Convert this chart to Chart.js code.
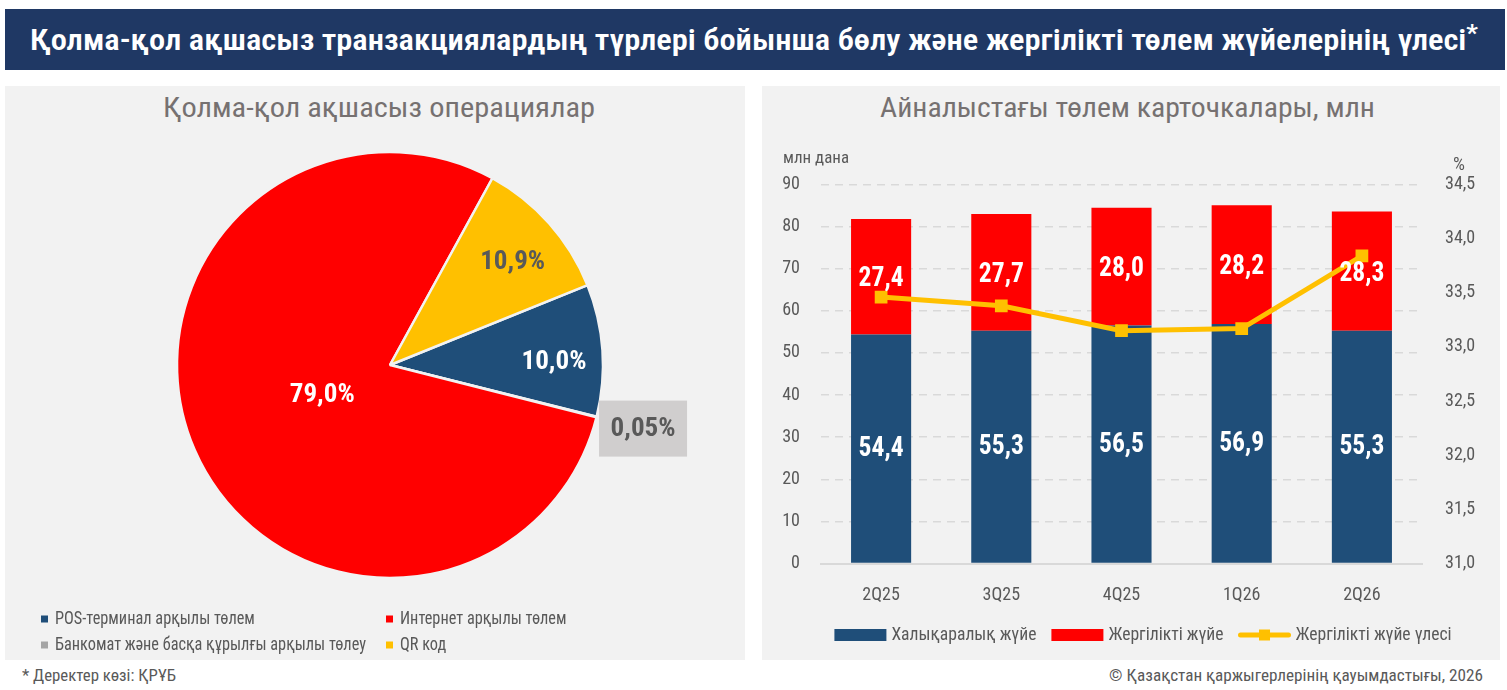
<!DOCTYPE html>
<html><head><meta charset="utf-8">
<script src="https://cdn.jsdelivr.net/npm/chart.js@4.4.1/dist/chart.umd.min.js"></script>
<style>
html,body{margin:0;padding:0;background:#fff;width:1507px;height:690px;overflow:hidden;position:relative;}
.abs{position:absolute;}
.txt{position:absolute;white-space:nowrap;line-height:1;transform-origin:0 50%;}
#hdr{left:5px;top:9px;width:1500px;height:61px;background:#1f3864;}
#lp{left:5px;top:86px;width:740px;height:574px;background:#f2f2f2;}
#rp{left:762px;top:86px;width:738px;height:574px;background:#f2f2f2;}
#pieCanvasWrap{left:5px;top:86px;width:740px;height:574px;}
#barCanvasWrap{left:762px;top:86px;width:738px;height:574px;}
</style>
</head><body>
<div id="hdr" class="abs"></div>
<div id="lp" class="abs"></div>
<div id="rp" class="abs"></div>
<div id="title" class="txt" data-x1="30" data-x2="1478" data-cy="40" style="font-size:30px;font-weight:600;color:#fff;">Қолма-қол ақшасыз транзакциялардың түрлері бойынша бөлу және жергілікті төлем жүйелерінің үлесі<span style="position:relative;top:-9px;font-size:24px;">*</span></div>
<div id="sub1" class="txt" data-x1="163" data-x2="595" data-cy="108" style="font-size:28px;color:#767171;">Қолма-қол ақшасыз операциялар</div>
<div id="sub2" class="txt" data-x1="880" data-x2="1375" data-cy="108" style="font-size:28px;color:#767171;">Айналыстағы төлем карточкалары, млн</div>
<div id="foot1" class="txt" data-x1="22" data-x2="176" data-cy="675" style="font-size:17px;color:#595959;">* Деректер көзі: ҚРҰБ</div>
<div id="foot2" class="txt" data-x1="1109" data-x2="1483" data-cy="675" style="font-size:17px;color:#595959;">© Қазақстан қаржыгерлерінің қауымдастығы, 2026</div>
<div id="pieCanvasWrap" class="abs"><canvas id="pie" width="740" height="574"></canvas></div>
<div id="barCanvasWrap" class="abs"><canvas id="bar" width="738" height="574"></canvas></div>
<script>
// ---------- DATA ----------
const pieLabels = ['POS-терминал арқылы төлем', 'Банкомат және басқа құрылғы арқылы төлеу', 'Интернет арқылы төлем', 'QR код'];
const pieValues = [10.0, 0.05, 79.0, 10.9];

const quarters = ['2Q25', '3Q25', '4Q25', '1Q26', '2Q26'];
const intlValues = [54.4, 55.3, 56.5, 56.9, 55.3];
const localValues = [27.4, 27.7, 28.0, 28.2, 28.3];
const localShare = [33.46, 33.38, 33.15, 33.17, 33.84];
const seriesNames = ['Халықаралық жүйе', 'Жергілікті жүйе', 'Жергілікті жүйе үлесі'];
const leftTicks = [0, 10, 20, 30, 40, 50, 60, 70, 80, 90];
const rightTicks = [31.0, 31.5, 32.0, 32.5, 33.0, 33.5, 34.0, 34.5];
const leftAxisTitle = 'млн дана';
const rightAxisTitle = '%';

// ---------- FONT PICK ----------
const probe = document.createElement('canvas').getContext('2d');
const PS = 'Қолма-қол ақшасыз abcdefghijk 0123456789';
function widthOf(f) { probe.font = f; return probe.measureText(PS).width; }
function hasFont(name) {
  const w0 = widthOf('40px monospace');
  const w1 = widthOf("40px '" + name + "', monospace");
  return Math.abs(w1 - w0) > 0.5;
}
let FAM = null, STRETCH = '';
const condensedNames = ['Liberation Sans Narrow', 'Roboto Condensed', 'Noto Sans Condensed', 'DejaVu Sans Condensed', 'Open Sans Condensed', 'Noto Sans SemiCondensed'];
for (const n of condensedNames) { if (hasFont(n)) { FAM = "'" + n + "'"; break; } }
if (!FAM) {
  const wn = widthOf("40px 'Noto Sans'");
  const wc = widthOf("condensed 40px 'Noto Sans'");
  if (hasFont('Noto Sans') && wc < wn * 0.93) { FAM = "'Noto Sans'"; STRETCH = 'condensed '; }
}
if (!FAM) FAM = hasFont('Roboto') ? 'Roboto' : "'Liberation Sans'";
const FONT = FAM + ', sans-serif';
function fontStr(size, bold) { return STRETCH + (bold ? 'bold ' : '') + size + 'px ' + FONT; }

// ---------- STYLE ----------
const pieColors = ['#1f4e79', '#a5a5a5', '#ff0000', '#ffc000'];
const pieLabelColors = ['#ffffff', '#595959', '#ffffff', '#595959'];
const pieLabelDist = [0.77, 1.225, 0.347, 0.752];
const pieLabelAngleShift = [2.9, 0, 0, 1.6];   // degrees, clockwise
const pieLabelBox = [false, true, false, false];
const barLabelDy = [1, 3];
const BLUE = '#1f4e79', RED = '#ff0000', YEL = '#ffc000', GREY_TXT = '#595959';

Chart.defaults.font.family = FONT;
if (STRETCH) Chart.defaults.font.weight = 'condensed normal';
Chart.defaults.color = GREY_TXT;

function fmt(v, d) { return v.toFixed(d).replace('.', ','); }
function fitFactor(ctx, sample, target) { return Math.min(1.15, target / ctx.measureText(sample).width); }
function drawFit(ctx, txt, x, y, sx) {
  ctx.save(); ctx.translate(x, y); ctx.scale(sx, 1); ctx.fillText(txt, 0, 0); ctx.restore();
}

// ---------- HTML text fitting ----------
document.querySelectorAll('.txt').forEach(el => {
  el.style.fontFamily = FONT;
  if (STRETCH) el.style.fontStretch = 'condensed';
  const x1 = +el.dataset.x1, x2 = +el.dataset.x2, cy = +el.dataset.cy;
  const fs = parseFloat(el.style.fontSize);
  el.style.left = x1 + 'px';
  el.style.top = (cy - 0.49 * fs) + 'px';
  const w = el.getBoundingClientRect().width;
  el.style.transform = 'scaleX(' + ((x2 - x1) / w) + ')';
});

// ---------- PIE ----------
const pieLabelPlugin = {
  id: 'pieLabels',
  afterDatasetsDraw(chart) {
    const ctx = chart.ctx;
    const meta = chart.getDatasetMeta(0);
    ctx.save();
    ctx.font = fontStr(25, true);
    ctx.textAlign = 'center'; ctx.textBaseline = 'middle';
    const sx = fitFactor(ctx, '79,0%', 65);
    meta.data.forEach((arc, i) => {
      const p = arc.getProps(['x', 'y', 'startAngle', 'endAngle', 'outerRadius'], true);
      const mid = (p.startAngle + p.endAngle) / 2 + pieLabelAngleShift[i] * Math.PI / 180;
      const d = p.outerRadius * pieLabelDist[i];
      const px = p.x + Math.cos(mid) * d, py = p.y + Math.sin(mid) * d;
      const v = pieValues[i];
      const txt = fmt(v, v < 1 ? 2 : 1) + '%';
      if (pieLabelBox[i]) { ctx.fillStyle = '#d0cece'; ctx.fillRect(px - 44, py - 28, 88, 56); }
      ctx.fillStyle = pieLabelColors[i];
      drawFit(ctx, txt, px, py + 1, sx);
    });
    ctx.restore();
  },
  afterDraw(chart) {
    const ctx = chart.ctx;
    const colX = [36, 381], rowY = [533, 559];
    ctx.save();
    ctx.font = fontStr(18, false);
    ctx.textBaseline = 'middle'; ctx.textAlign = 'left';
    const sx = fitFactor(ctx, pieLabels[1], 311);
    pieLabels.forEach((lab, i) => {
      const c = Math.floor(i / 2), r = i % 2;
      const x = colX[c], y = rowY[r];
      ctx.fillStyle = pieColors[i];
      ctx.fillRect(x, y - 3.5, 7, 7);
      ctx.fillStyle = GREY_TXT;
      drawFit(ctx, lab, x + 14, y, sx);
    });
    ctx.restore();
  }
};

new Chart(document.getElementById('pie'), {
  type: 'pie',
  data: {
    labels: pieLabels,
    datasets: [{
      data: pieValues,
      backgroundColor: pieColors,
      borderColor: '#f2f2f2',
      borderWidth: 2.5
    }]
  },
  options: {
    responsive: false,
    animation: false,
    rotation: 68,
    radius: 213,
    layout: { padding: { left: 172, right: 142, top: 66, bottom: 82 } },
    plugins: { legend: { display: false }, tooltip: { enabled: false } }
  },
  plugins: [pieLabelPlugin]
});

// ---------- BAR + LINE ----------
const barPlugin = {
  id: 'barExtras',
  afterDatasetsDraw(chart) {
    const ctx = chart.ctx;
    ctx.save();
    ctx.font = fontStr(27, true);
    ctx.fillStyle = '#ffffff';
    ctx.textAlign = 'center'; ctx.textBaseline = 'middle';
    const sx = fitFactor(ctx, '54,4', 45);
    [1, 2].forEach((di, k) => {
      const meta = chart.getDatasetMeta(di);
      const vals = chart.data.datasets[di].data;
      meta.data.forEach((bar, i) => {
        const c = bar.getCenterPoint(true);
        drawFit(ctx, fmt(vals[i], 1), c.x, c.y + barLabelDy[k], sx);
      });
    });
    ctx.restore();
  },
  afterDraw(chart) {
    const ctx = chart.ctx;
    ctx.save();
    ctx.fillStyle = GREY_TXT;
    ctx.font = fontStr(17, false);
    ctx.textBaseline = 'middle';
    ctx.textAlign = 'left';
    const sxT = fitFactor(ctx, leftAxisTitle, 66);
    drawFit(ctx, leftAxisTitle, 21, 73, sxT);
    ctx.font = fontStr(19, false);
    ctx.textAlign = 'center';
    drawFit(ctx, rightAxisTitle, 697, 79, sxT);
    // legend
    const y = 549;
    ctx.font = fontStr(18, false);
    ctx.textAlign = 'left';
    const sx = fitFactor(ctx, seriesNames[0], 145);
    const items = [
      { t: seriesNames[0], kind: 'box', c: BLUE },
      { t: seriesNames[1], kind: 'box', c: RED },
      { t: seriesNames[2], kind: 'line', c: YEL }
    ];
    const boxW = 52, gapT = 5, gapI = 15;
    let total = 0;
    items.forEach((it, k) => { it.w = ctx.measureText(it.t).width * sx; total += boxW + gapT + it.w + (k < items.length - 1 ? gapI : 0); });
    let x = 381 - total / 2;
    items.forEach(it => {
      if (it.kind === 'box') {
        ctx.fillStyle = it.c; ctx.fillRect(x, y - 6, boxW, 12);
      } else {
        ctx.strokeStyle = it.c; ctx.lineWidth = 5; ctx.lineCap = 'round';
        ctx.beginPath(); ctx.moveTo(x + 2, y); ctx.lineTo(x + boxW - 2, y); ctx.stroke();
        ctx.fillStyle = it.c; ctx.fillRect(x + boxW / 2 - 5.5, y - 5.5, 11, 11);
      }
      x += boxW + gapT;
      ctx.fillStyle = GREY_TXT;
      drawFit(ctx, it.t, x, y, sx);
      x += it.w + gapI;
    });
    ctx.restore();
  }
};

new Chart(document.getElementById('bar'), {
  type: 'bar',
  data: {
    labels: quarters,
    datasets: [
      {
        type: 'line', label: seriesNames[2], data: localShare, yAxisID: 'y1', order: 0,
        borderColor: YEL, backgroundColor: YEL, borderWidth: 5, tension: 0,
        pointStyle: 'rect', pointRadius: 9, pointBackgroundColor: YEL, pointBorderWidth: 0
      },
      { label: seriesNames[0], data: intlValues, backgroundColor: BLUE, yAxisID: 'y', order: 1, stack: 's',
        barPercentage: 0.5, categoryPercentage: 1.0 },
      { label: seriesNames[1], data: localValues, backgroundColor: RED, yAxisID: 'y', order: 1, stack: 's',
        barPercentage: 0.5, categoryPercentage: 1.0 }
    ]
  },
  options: {
    responsive: false,
    animation: false,
    layout: { padding: { top: 98.5, left: 0, right: 0, bottom: 0 } },
    plugins: { legend: { display: false }, tooltip: { enabled: false } },
    scales: {
      x: {
        stacked: true,
        grid: { display: false },
        border: { display: true, color: '#d9d9d9', width: 2 },
        ticks: { padding: 13, font: { size: 18 }, color: GREY_TXT },
        afterFit(s) { s.height = 96.5; }
      },
      y: {
        stacked: true, position: 'left',
        min: leftTicks[0], max: leftTicks[leftTicks.length - 1],
        grid: { color: '#d9d9d9', lineWidth: 1.5, drawTicks: false },
        border: { display: false, dash: [8, 6] },
        ticks: { stepSize: leftTicks[1] - leftTicks[0], padding: 21, font: { size: 18 }, color: GREY_TXT },
        afterFit(s) { s.width = 59; }
      },
      y1: {
        stacked: false, position: 'right',
        min: rightTicks[0], max: rightTicks[rightTicks.length - 1],
        grid: { display: false, drawTicks: false },
        border: { display: false },
        ticks: { stepSize: rightTicks[1] - rightTicks[0], padding: 23, font: { size: 18 }, color: GREY_TXT,
          callback: v => fmt(v, 1) },
        afterFit(s) { s.width = 78; }
      }
    }
  },
  plugins: [barPlugin]
});
</script>
</body></html>
